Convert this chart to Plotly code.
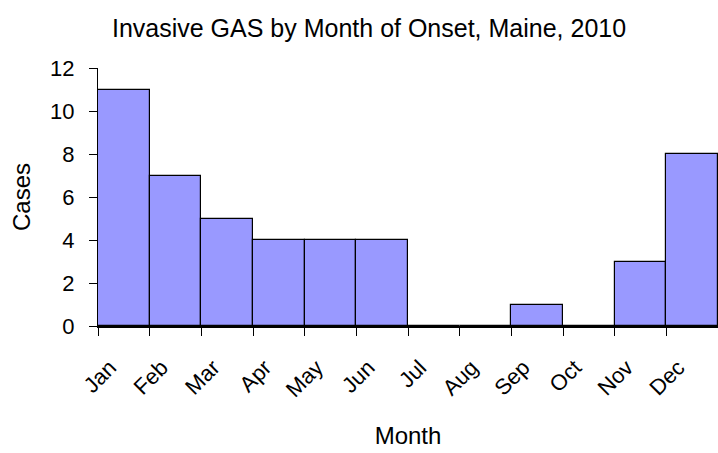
import plotly.graph_objects as go

months = ["Jan", "Feb", "Mar", "Apr", "May", "Jun", "Jul", "Aug", "Sep", "Oct", "Nov", "Dec"]
cases = [11, 7, 5, 4, 4, 4, 0, 0, 1, 0, 3, 8]
y_ticks = [0, 2, 4, 6, 8, 10, 12]

x_pos = [i + 0.5 for i in range(len(months))]
tick_pos = list(range(len(months)))

font = "Liberation Sans, Arial, sans-serif"

fig = go.Figure(go.Bar(
    x=x_pos, y=cases, width=1,
    marker=dict(color="#9999FF", line=dict(color="black", width=1.2)),
    hoverinfo="y",
))

fig.update_layout(
    width=718, height=453,
    margin=dict(l=98, r=0, t=68, b=127),
    paper_bgcolor="white", plot_bgcolor="white",
    font=dict(family=font, size=22, color="black"),
    title=dict(text="Invasive GAS by Month of Onset, Maine, 2010", x=0.514, xanchor="center",
               y=0.938, yanchor="middle", font=dict(size=25)),
    showlegend=False,
    bargap=0,
)
fig.update_xaxes(
    range=[0, 12], tickvals=tick_pos, ticktext=months, tickangle=-45,
    showgrid=False, zeroline=False, showline=True, linecolor="black", linewidth=2,
    ticks="outside", ticklen=8, tickcolor="black", tickwidth=1,
    ticklabelshift=12, ticklabelstandoff=10,
    title=dict(text="Month", standoff=26, font=dict(size=24)), tickfont=dict(size=22), automargin=False,
)
fig.update_yaxes(
    range=[0, 12], tickvals=y_ticks, showgrid=False, zeroline=False,
    showline=True, linecolor="black", linewidth=1,
    ticks="outside", ticklen=8, tickcolor="black", tickwidth=1,
    ticklabelstandoff=10,
    title=dict(text="Cases", standoff=12, font=dict(size=24)), tickfont=dict(size=22), automargin=False,
)

fig.write_html("out.html", config={"displayModeBar": False},
               post_script="document.body.style.margin='0';")
